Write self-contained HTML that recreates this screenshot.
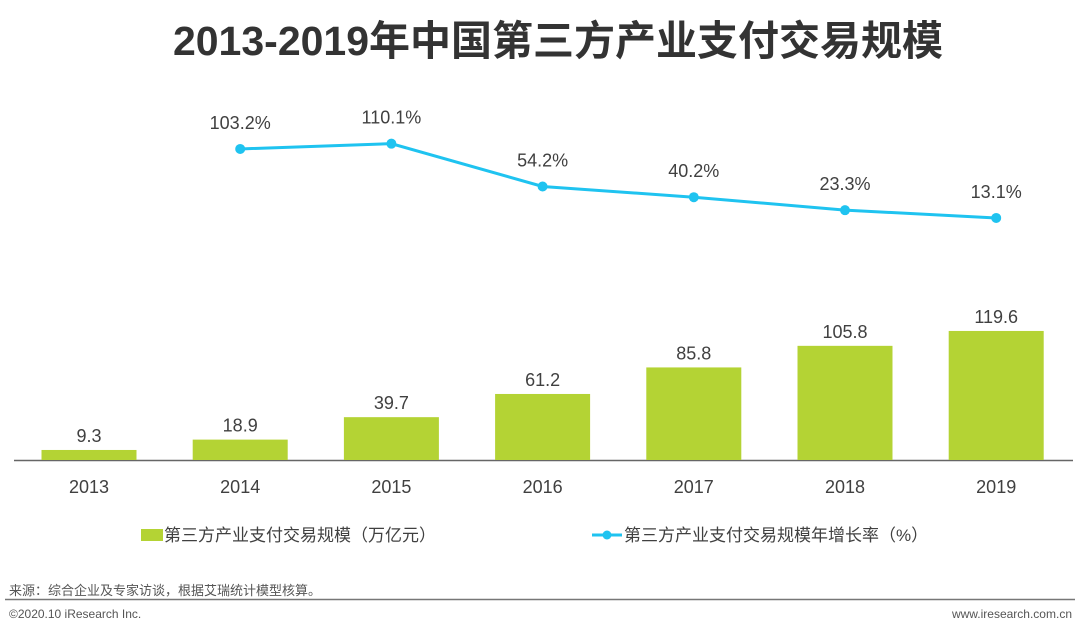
<!DOCTYPE html>
<html><head><meta charset="utf-8">
<style>
body{margin:0;width:1080px;height:635px;background:#fff;overflow:hidden;font-family:"Liberation Sans","Noto Sans CJK SC",sans-serif;}
svg text{font-family:"Liberation Sans","Noto Sans CJK SC",sans-serif;}
</style></head>
<body>
<svg id="chart" width="1080" height="635" xmlns="http://www.w3.org/2000/svg">
<text x="558" y="55" text-anchor="middle" font-size="41" font-weight="bold" fill="#333">2013-2019年中国第三方产业支付交易规模</text>
<line x1="14" y1="460.5" x2="1073" y2="460.5" stroke="#666" stroke-width="1.5"/>
<g id="bars"></g><g id="line"></g><g id="xlabels"></g>
<g>
<rect x="141" y="529" width="22" height="12" fill="#b4d334"/>
<text x="164" y="541" font-size="17" fill="#404040">第三方产业支付交易规模（万亿元）</text>
<line x1="592" y1="535" x2="622" y2="535" stroke="#1fc3f0" stroke-width="3"/>
<circle cx="607" cy="535" r="4.5" fill="#1fc3f0"/>
<text x="624" y="541" font-size="17" fill="#404040">第三方产业支付交易规模年增长率（%）</text>
</g>
<text x="9" y="595" font-size="13" fill="#555">来源：综合企业及专家访谈，根据艾瑞统计模型核算。</text>
<line x1="5" y1="599.5" x2="1075" y2="599.5" stroke="#777" stroke-width="1.5"/>
<text x="9" y="618" font-size="12" fill="#555">©2020.10 iResearch Inc.</text>
<text x="1072" y="618" font-size="12" fill="#555" text-anchor="end">www.iresearch.com.cn</text>
</svg>
<script>
const categories=["2013","2014","2015","2016","2017","2018","2019"];
const volumes=[9.3,18.9,39.7,61.2,85.8,105.8,119.6];
const growth=[null,103.2,110.1,54.2,40.2,23.3,13.1];
const NS="http://www.w3.org/2000/svg";
function xC(i){return 89+i*151.2;}
function yBar(v){return 460-v*1.079;}
function yLine(v){return 228-v*0.766;}
function mk(tag,attrs,parent){const e=document.createElementNS(NS,tag);for(const k in attrs)e.setAttribute(k,attrs[k]);parent.appendChild(e);return e;}
const bars=document.getElementById('bars'),line=document.getElementById('line'),xl=document.getElementById('xlabels');
categories.forEach((c,i)=>{
 const r=mk('rect',{x:xC(i)-47.5,y:yBar(volumes[i]),width:95,height:460-yBar(volumes[i]),fill:'#b4d334'},bars);
 
 
 const t=mk('text',{x:xC(i),y:yBar(volumes[i])-8,'text-anchor':'middle','font-size':18,fill:'#404040'},bars);
 t.textContent=volumes[i].toFixed(1);
 
 
 const l=mk('text',{x:xC(i),y:493,'text-anchor':'middle','font-size':18,fill:'#404040'},xl);
 l.textContent=c;
 
 
});
let pts=[];
growth.forEach((g,i)=>{if(g!==null)pts.push([xC(i),yLine(g),g,categories[i]]);});
const pl=mk('polyline',{points:pts.map(p=>p[0]+','+p[1]).join(' '),fill:'none',stroke:'#1fc3f0','stroke-width':3},line);


pts.forEach(p=>{
 const c=mk('circle',{cx:p[0],cy:p[1],r:5,fill:'#1fc3f0'},line);
 
 
 const t=mk('text',{x:p[0],y:p[1]-20,'text-anchor':'middle','font-size':18,fill:'#404040'},line);
 t.textContent=p[2].toFixed(1)+'%';
 
 
});
</script>
</body></html>
